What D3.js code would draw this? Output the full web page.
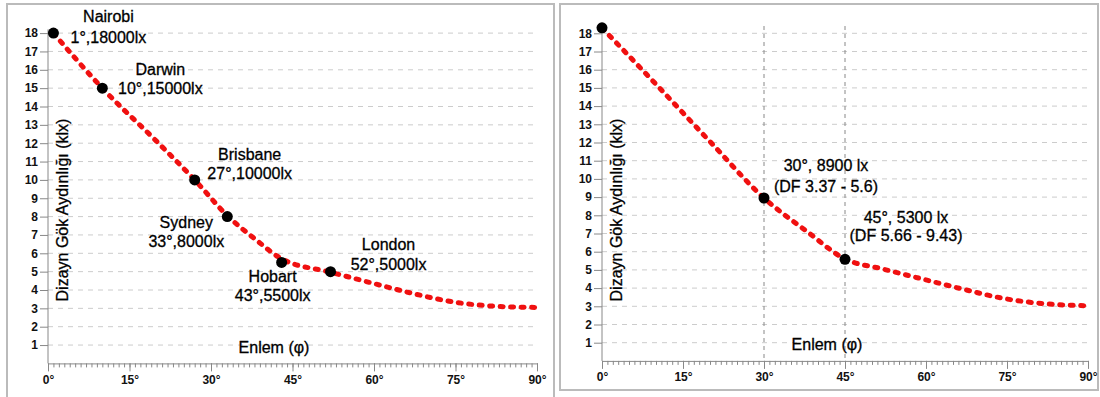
<!DOCTYPE html>
<html>
<head>
<meta charset="utf-8">
<style>
  body { margin: 0; background: #fff; }
  #chart { font-family: Arial, "Liberation Sans", sans-serif; }
  .tick text { font-family: "Liberation Sans Narrow", "Arial Narrow", Arial, sans-serif; font-size: 12px; font-weight: bold; fill: #111; }
  .lbl { font-size: 16px; fill: #000; stroke: #000; stroke-width: 0.3; text-anchor: middle; }
</style>
</head>
<body>
<div id="chart"></div>
<script src="https://d3js.org/d3.v7.min.js"></script>
<script>
  // axis values
  var yTicks = d3.range(1, 19);
  var xTicks = [0, 15, 30, 45, 60, 75, 90];

  var leftLat = [1, 10, 20, 27, 33, 38, 43, 52, 60, 67, 75, 82, 90];
  var leftKlx = [18, 15, 12.1, 10, 8.05, 6.8, 5.7, 4.97, 4.35, 3.82, 3.33, 3.12, 3.05];
  var cityNames = ["Nairobi", "Darwin", "Brisbane", "Sydney", "Hobart", "London"];
  var cityLat = [1, 10, 27, 33, 43, 52];
  var cityKlx = [18, 15, 10, 8, 5.5, 5];
  var cityText = ["1°,18000lx", "10°,15000lx", "27°,10000lx", "33°,8000lx", "43°,5500lx", "52°,5000lx"];

  // right panel
  var rightLat = [0, 10, 20, 30, 38, 45, 52, 60, 67, 75, 82, 90];
  var rightKlx = [18.3, 15.2, 12.05, 8.95, 7.1, 5.6, 5.05, 4.45, 3.93, 3.4, 3.14, 3.03];
  var markLat = [0, 30, 45];
  var markKlx = [18.3, 8.95, 5.58];
  var markText1 = ["", "30°, 8900 lx", "45°, 5300 lx"];
  var markText2 = ["", "(DF 3.37 - 5.6)", "(DF 5.66 - 9.43)"];
  var guideLat = [30, 45];

  var svg = d3.select("#chart").append("svg")
    .attr("width", 1100).attr("height", 397);

  // panel frames
  svg.append("rect").attr("x", 7).attr("y", 4).attr("width", 547).attr("height", 400)
    .attr("fill", "none").attr("stroke", "#bbb").attr("stroke-width", 2);
  svg.append("rect").attr("x", 560).attr("y", 4).attr("width", 538).attr("height", 386)
    .attr("fill", "none").attr("stroke", "#bbb").attr("stroke-width", 2);

  function panel(opt) {
    var g = svg.append("g");
    var x = d3.scaleLinear().domain([0, 90]).range(opt.xr);
    var y = d3.scaleLinear().domain([0, 18]).range(opt.yr);

    // grid
    g.selectAll(".grid").data(yTicks).enter().append("line")
      .attr("x1", x(0)).attr("x2", x(90))
      .attr("y1", function(d) { return y(d); }).attr("y2", function(d) { return y(d); })
      .attr("stroke", "#ccc").attr("stroke-dasharray", "5,5");

    // guides
    g.selectAll(".guide").data(opt.guides || []).enter().append("line")
      .attr("x1", function(d) { return x(d); }).attr("x2", function(d) { return x(d); })
      .attr("y1", y(18.4)).attr("y2", y(0))
      .attr("stroke", "#888").attr("stroke-dasharray", "4,4");

    // y axis
    var ya = g.append("g").attr("transform", "translate(" + x(0) + ",0)")
      .call(d3.axisLeft(y).tickValues(yTicks).tickSize(8).tickPadding(2));
    ya.select(".domain").remove();
    ya.selectAll("line").attr("stroke", "#888");
    g.append("line").attr("x1", x(0)).attr("x2", x(0))
      .attr("y1", y(18.2)).attr("y2", y(0)).attr("stroke", "#888");

    // x axis, minor then major
    var xm = g.append("g").attr("transform", "translate(0," + y(0) + ")")
      .call(d3.axisBottom(x).tickValues(d3.range(0, 91)).tickSize(4).tickFormat(""));
    xm.select(".domain").attr("stroke", "#888");
    xm.selectAll("line").attr("stroke", "#888");
    var xa = g.append("g").attr("transform", "translate(0," + y(0) + ")")
      .call(d3.axisBottom(x).tickValues(xTicks).tickSize(8).tickPadding(4)
        .tickFormat(function(d) { return d + "°"; }));
    xa.select(".domain").remove();
    xa.selectAll("line").attr("stroke", "#888");

    // titles
    g.append("text").attr("class", "lbl")
      .attr("transform", "translate(" + opt.ytx + ",210) rotate(-90)")
      .text("Dizayn Gök Aydınlığı (klx)");
    g.append("text").attr("class", "lbl")
      .attr("x", opt.xtx).attr("y", opt.xty)
      .text("Enlem (φ)");

    // curve
    var line = d3.line()
      .x(function(d, i) { return x(opt.lat[i]); })
      .y(function(d) { return y(d); })
      .curve(d3.curveMonotoneX);
    g.append("path").datum(opt.klx).attr("d", line)
      .attr("fill", "none").attr("stroke", "#f01010").attr("stroke-width", 5)
      .attr("stroke-linecap", "round").attr("stroke-dasharray", "3,7.5");

    // points + labels
    opt.pLat.forEach(function(lat, i) {
      var px = x(lat), py = y(opt.pKlx[i]);
      g.append("circle").attr("cx", px).attr("cy", py).attr("r", 5.5).attr("fill", "#000");
      if (!opt.t1[i]) return;
      var o = opt.off[i];
      g.append("text").attr("class", "lbl").attr("x", px + o[0]).attr("y", py + o[1]).text(opt.t1[i]);
      g.append("text").attr("class", "lbl").attr("x", px + o[0]).attr("y", py + o[1] + o[2]).text(opt.t2[i]);
    });
  }

  panel({
    xr: [48, 537], yr: [363.4, 33.1],
    lat: leftLat, klx: leftKlx,
    pLat: cityLat, pKlx: cityKlx, t1: cityNames, t2: cityText,
    off: [[55, -11, 21], [58, -13, 19], [55, -20, 19], [-41, 11, 19], [-9, 20, 19], [58, -22, 20]],
    ytx: 68, xtx: 274, xty: 353
  });

  panel({
    xr: [602, 1088], yr: [360.9, 33.3],
    lat: rightLat, klx: rightKlx,
    pLat: markLat, pKlx: markKlx, t1: markText1, t2: markText2,
    off: [null, [62, -27, 21], [61, -36, 18]],
    guides: guideLat,
    ytx: 622, xtx: 827, xty: 350
  });
</script>
</body>
</html>
